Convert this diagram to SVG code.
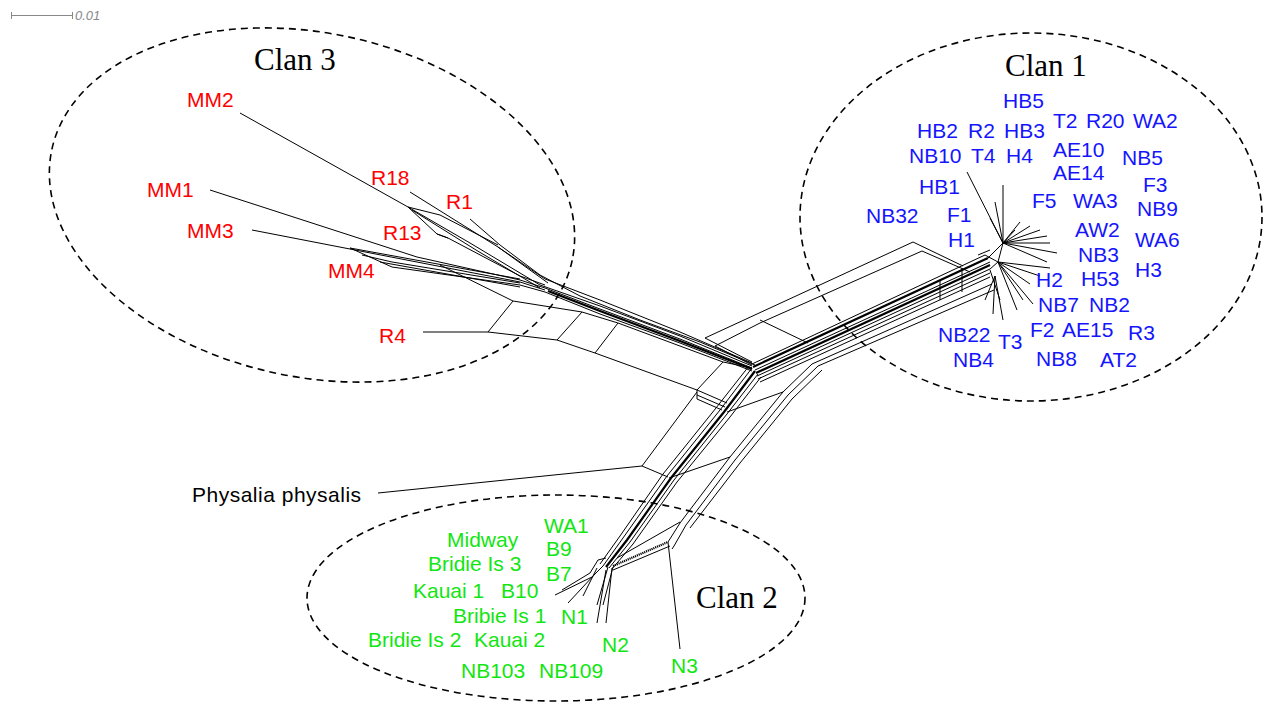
<svg xmlns="http://www.w3.org/2000/svg" width="1268" height="708" viewBox="0 0 1268 708">
  <style>
    .clan { fill: none; stroke: #000; stroke-width: 1.6; stroke-dasharray: 7 5; }
    .clanlbl { font-family: "Liberation Serif", "Times New Roman", serif; font-size: 31px; fill: #000; }
    .lbl { font-family: "Liberation Sans", Arial, sans-serif; font-size: 21px; }
    .c3 { fill: #ff0000; }
    .c1 { fill: #1414ff; }
    .c2 { fill: #11e611; }
    .out { fill: #000; letter-spacing: 0.5px; }
    .e { fill: none; stroke: #000; stroke-width: 1; stroke-linejoin: round; }
    .t { fill: none; stroke: #000; stroke-width: 2.2; }
    .scale { stroke: #888; stroke-width: 1; fill: none; }
  </style>
  <rect width="1268" height="708" fill="#fff"/>

  <!-- scale bar -->
  <g id="scale-bar">
    <path class="scale" d="M11,15.5 H73 M11.5,12 V19 M72.5,12 V19"/>
    <text x="75" y="20" font-family="Liberation Sans, Arial, sans-serif" font-size="13" font-style="italic" fill="#888">0.01</text>
  </g>

  <!-- clan outlines -->
  <g id="clan3">
    <ellipse class="clan" cx="0" cy="0" rx="266" ry="172" transform="translate(312,205) rotate(12)"/>
    <text class="clanlbl" x="254" y="70">Clan 3</text>
  </g>
  <g id="clan1">
    <ellipse class="clan" cx="1031" cy="217" rx="231" ry="184"/>
    <text class="clanlbl" x="1005" y="76">Clan 1</text>
  </g>
  <g id="clan2">
    <ellipse class="clan" cx="556" cy="598" rx="249" ry="103"/>
    <text class="clanlbl" x="696" y="608">Clan 2</text>
  </g>

  <!-- split network edges -->
  <g id="connectors">
    <!-- clan 3 tips -->
    <path class="e" d="M240,113 L408,207 L470,243 L540,285"/>
    <path class="e" d="M410,192 L498,247 L548,283"/>
    <path class="e" d="M470,219 L500,245"/>
    <path class="e" d="M408,207 L440,215 L498,245"/>
    <path class="e" d="M408,207 L437,234 L448,238 L520,276 L545,285"/>
    <path class="e" d="M412,210 L476,250 L540,288"/>
    <path class="e" d="M210,190 L417,257 L520,280 L545,288"/>
    <path class="e" d="M252,230 L520,282 L545,290"/>
    <path class="e" d="M350,248 L392,267 L520,285 L545,292"/>
    <path class="e" d="M350,248 L520,279"/>
    <path class="e" d="M380,262 L520,287"/>
    <path class="e" d="M362,255 L392,262 L520,283"/>
    <path class="e" d="M437,234 L448,238"/>
    <path class="e" d="M440,265 L513,301"/>

    <!-- clan 3 bundle to hub -->
    <path class="e" d="M540,285 L600,306 L680,336 L752,366"/>
    <path class="e" d="M545,288 L600,309 L680,339 L752,368"/>
    <path class="t" d="M548,291 L600,311 L680,341 L752,369"/>
    <path class="e" d="M545,292 L600,314 L680,343 L752,371"/>
    <path class="e" d="M500,245 L540,275 L580,296 L640,320 L700,342 L755,365"/>
    <path class="e" d="M498,247 L545,279 L600,300 L680,332 L752,363"/>

    <!-- R4 split box -->
    <path class="e" d="M423,332 L488,332 L557,340 L595,353 L697,390"/>
    <path class="e" d="M513,301 L582,312 L618,323 L723,362 L752,368"/>
    <path class="e" d="M488,332 L513,301 M557,340 L582,312 M595,353 L618,323 M697,390 L723,362"/>
    <path class="e" d="M697,390 L727,403 M697,395 L725,407 M697,399 L722,410 M697,390 L697,399"/>

    <!-- Physalia branch -->
    <path class="e" d="M378,493 L642,466 L668,477"/>
    <path class="e" d="M642,466 L697,392"/>

    <!-- clan 1 arm -->
    <path class="e" d="M705,338 L913,242 L963,266"/>
    <path class="e" d="M715,346 L760,323 L922,251 L970,272"/>
    <path class="e" d="M760,320 L808,343"/>
    <path class="e" d="M705,338 L752,362"/>
    <path class="e" d="M715,346 L752,365"/>
    <path class="e" d="M752,364 L985,255"/>
    <path class="t" d="M753,367 L988,258"/>
    <path class="e" d="M755,370 L990,262"/>
    <path class="t" d="M756,373 L990,265"/>
    <path class="e" d="M757,376 L990,269"/>
    <path class="e" d="M758,379 L990,273"/>
    <path class="e" d="M760,382 L990,277"/>
    <path class="e" d="M812,364 L992,284"/>
    <path class="e" d="M818,366 L994,290"/>
    <path class="e" d="M962,268 L962,292 M940,280 L940,300"/>

    <!-- lower bundle to N3 -->
    <path class="e" d="M812,364 L783,392 L730,457 L680,523 L668,542"/>
    <path class="e" d="M818,366 L788,395 L735,460 L686,525 L674,546"/>
    <path class="e" d="M822,370 L792,399 L740,463 L690,528"/>

    <!-- hub to clan 2 bundle -->
    <path class="e" d="M752,368 L720,410 L667,476 L623,538 L603,566"/>
    <path class="t" d="M755,371 L724,412 L671,478 L627,540 L606,567"/>
    <path class="e" d="M758,374 L727,414 L674,480 L630,542 L609,568"/>
    <path class="e" d="M761,377 L730,417 L677,482 L633,544 L612,569"/>
    <path class="e" d="M749,366 L716,408 L663,474 L620,536 L600,564"/>

    <!-- cross splits -->
    <path class="e" d="M727,412 L783,392"/>
    <path class="e" d="M669,478 L730,457"/>
    <path class="e" d="M617,558 L680,522"/>
    <path class="t" d="M613,566 L668,542" stroke-dasharray="1.2 0.8"/>
    <path class="e" d="M613,570 L670,546"/>

    <!-- clan 2 tips -->
    <path class="e" d="M668,542 L680,649"/>
    <path class="e" d="M674,546 L672,549"/>
    <path class="e" d="M555,595 L592,577 L603,566"/>
    <path class="e" d="M568,603 L595,574"/>
    <path class="e" d="M583,596 L597,568"/>
    <path class="e" d="M562,590 L590,573"/>
    <path class="e" d="M597,623 L606,570"/>
    <path class="e" d="M606,623 L612,568"/>
    <path class="e" d="M597,605 L608,567 M603,605 L613,567"/>
    <path class="e" d="M590,573 L598,560 L606,558"/>

    <!-- clan 1 radiation -->
    <path class="e" d="M1003,243 L967,172 M1003,243 L1003,185 M1003,243 L995,202 M1003,243 L990,218 M1003,243 L1020,222 M1003,243 L1030,226 M1003,243 L1040,230 M1003,243 L1047,236 M1003,243 L1050,243 M1003,243 L1057,253 M1003,243 L1047,262 M1003,243 L1015,230"/>
    <path class="e" d="M998,262 L1050,268 M998,262 L1040,276 M998,262 L1030,284 M998,262 L1023,300 M998,262 L1033,304 M998,262 L1017,310"/>
    <path class="e" d="M995,276 L1003,320 M995,276 L993,314 M995,276 L985,300 M990,270 L1000,300"/>
    <path class="e" d="M988,258 L1003,243 L998,262 L990,269 M985,255 L998,262 M978,255 L990,250"/>
  </g>

  <!-- leaf labels -->
  <g id="labels-clan3" class="lbl c3">
    <text x="187" y="107">MM2</text>
    <text x="371" y="185">R18</text>
    <text x="446" y="209">R1</text>
    <text x="147" y="197">MM1</text>
    <text x="187" y="238">MM3</text>
    <text x="383" y="240">R13</text>
    <text x="328" y="278">MM4</text>
    <text x="379" y="343">R4</text>
  </g>

  <g id="label-outgroup" class="lbl out">
    <text x="192" y="502">Physalia physalis</text>
  </g>

  <g id="labels-clan1" class="lbl c1">
    <text x="1003" y="108">HB5</text>
    <text x="917" y="138">HB2</text>
    <text x="968" y="138">R2</text>
    <text x="1004" y="138">HB3</text>
    <text x="1053" y="128">T2</text>
    <text x="1086" y="128">R20</text>
    <text x="1133" y="128">WA2</text>
    <text x="909" y="163">NB10</text>
    <text x="971" y="163">T4</text>
    <text x="1006" y="163">H4</text>
    <text x="1053" y="157">AE10</text>
    <text x="1053" y="180">AE14</text>
    <text x="1122" y="165">NB5</text>
    <text x="919" y="194">HB1</text>
    <text x="1143" y="192">F3</text>
    <text x="1032" y="208">F5</text>
    <text x="1073" y="208">WA3</text>
    <text x="1137" y="216">NB9</text>
    <text x="866" y="223">NB32</text>
    <text x="947" y="222">F1</text>
    <text x="1075" y="237">AW2</text>
    <text x="1135" y="247">WA6</text>
    <text x="948" y="247">H1</text>
    <text x="1078" y="262">NB3</text>
    <text x="1135" y="277">H3</text>
    <text x="1036" y="287">H2</text>
    <text x="1081" y="286">H53</text>
    <text x="1038" y="312">NB7</text>
    <text x="1089" y="312">NB2</text>
    <text x="1030" y="337">F2</text>
    <text x="1062" y="337">AE15</text>
    <text x="1128" y="340">R3</text>
    <text x="938" y="342">NB22</text>
    <text x="998" y="349">T3</text>
    <text x="953" y="367">NB4</text>
    <text x="1036" y="366">NB8</text>
    <text x="1100" y="367">AT2</text>
  </g>

  <g id="labels-clan2" class="lbl c2">
    <text x="544" y="533">WA1</text>
    <text x="447" y="547">Midway</text>
    <text x="546" y="556">B9</text>
    <text x="428" y="571">Bridie Is 3</text>
    <text x="546" y="581">B7</text>
    <text x="413" y="598">Kauai 1</text>
    <text x="501" y="598">B10</text>
    <text x="453" y="623">Bribie Is 1</text>
    <text x="561" y="624">N1</text>
    <text x="368" y="647">Bridie Is 2</text>
    <text x="474" y="647">Kauai 2</text>
    <text x="602" y="652">N2</text>
    <text x="461" y="678">NB103</text>
    <text x="539" y="678">NB109</text>
    <text x="671" y="673">N3</text>
  </g>
</svg>
